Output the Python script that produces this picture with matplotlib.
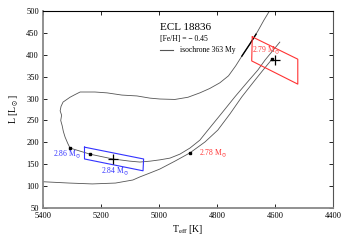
import matplotlib
matplotlib.use('Agg')
import matplotlib.pyplot as plt

plt.rcParams['font.family'] = ['Liberation Serif', 'DejaVu Serif']
plt.rcParams['mathtext.fontset'] = 'stix'

# --- data ---
# loop track (top -> down -> loop -> back up)
loop_T = [4617, 4638, 4659, 4686, 4714, 4735, 4760, 4790, 4825, 4859, 4900, 4945,
          4997, 5031, 5076, 5128, 5179, 5221, 5272, 5290, 5307, 5331, 5338, 5341,
          5336, 5339, 5334, 5330, 5324, 5315, 5307, 5238, 5159, 5100, 5066, 5031,
          4997, 4962, 4928, 4893, 4859, 4831, 4783, 4738, 4697, 4659, 4634, 4583]
loop_L = [502, 479, 454, 425, 397, 375, 352, 336, 323, 313, 303, 298,
          299, 301, 306, 308, 313, 315, 315, 309, 303, 292, 282, 272,
          262, 250, 238, 225, 212, 198, 187, 173, 162, 157, 155, 157,
          160, 164, 173, 187, 205, 228, 267, 304, 336, 365, 388, 429]

# lower track
low_T = [5400, 5310, 5230, 5150, 5090, 5066, 5031, 4997, 4945, 4893, 4841, 4797,
         4755, 4714, 4676, 4641, 4610]
low_L = [110, 107, 105, 107, 114, 121, 130, 139, 157, 176, 201, 228,
         265, 304, 336, 365, 390]

# highlighted piece of the loop track
thick_T = [4714, 4686, 4665]
thick_L = [397, 425, 447]

# model points
dot_T = [5307, 5238, 4893, 4610]
dot_L = [187, 173, 176, 390]

# observed positions (+) and error boxes
obs_T = [5157, 4601]
obs_L = [162, 387]
blue_box_T = [5257, 5053, 5055, 5257, 5257]
blue_box_L = [189, 162, 135, 162, 189]
red_box_T = [4678, 4521, 4521, 4680, 4678]
red_box_L = [441, 390, 333, 386, 441]

fig = plt.figure(figsize=(3.5, 2.45), dpi=100)
ax = fig.add_axes([0.123, 0.151, 0.828, 0.804])

gray = '#555555'
ax.plot(loop_T, loop_L, color=gray, lw=0.6)
ax.plot(low_T, low_L, color=gray, lw=0.6)
ax.plot(thick_T, thick_L, color='black', lw=1.0)
ax.plot(dot_T, dot_L, 's', color='black', markersize=1.8, linestyle='None')
ax.plot(blue_box_T, blue_box_L, color='#3333ff', lw=0.8)
ax.plot(red_box_T, red_box_L, color='#ff3333', lw=0.8)
ax.plot(obs_T, obs_L, '+', color='black', markersize=7, mew=0.9, linestyle='None')

# labels
blue = '#3333ff'
red = '#ff3333'
ax.text(5366, 173, r'2.86 M$_\odot$', color=blue, fontsize=5.5, va='center')
ax.text(5200, 134, r'2.84 M$_\odot$', color=blue, fontsize=5.5, va='center')
ax.text(4862, 176, r'2.78 M$_\odot$', color=red, fontsize=5.5, va='center')
ax.text(4679, 411, r'2.79 M$_\odot$', color=red, fontsize=5.5, va='center')

# legend block
ax.text(4997, 462, 'ECL 18836', fontsize=8, va='center')
ax.text(4997, 435, '[Fe/H] = \u2212 0.45', fontsize=5.5, va='center')
ax.plot([4997, 4952], [411, 411], color=gray, lw=0.8)
ax.text(4928, 411, 'isochrone 363 My', fontsize=5.5, va='center')

ax.set_xlim(5400, 4400)
ax.set_ylim(50, 500)
ax.set_xticks([5400, 5200, 5000, 4800, 4600, 4400])
ax.set_yticks(range(50, 501, 50))
ax.tick_params(direction='in', top=True, right=True, labelsize=6, length=3,
               width=0.6, pad=3)
ax.set_xlabel(r'T$_{\rm eff}$ [K]', fontsize=7, labelpad=2)
ax.set_ylabel(r'L [L$_\odot$]', fontsize=7, labelpad=4)

ax.spines['left'].set_color('#888888')
ax.spines['left'].set_linewidth(1.3)
ax.spines['bottom'].set_color('#888888')
ax.spines['bottom'].set_linewidth(1.3)
ax.spines['top'].set_linewidth(0.8)
ax.spines['right'].set_color('#555555')
ax.spines['right'].set_linewidth(0.8)

fig.savefig('out.png', dpi=100)
